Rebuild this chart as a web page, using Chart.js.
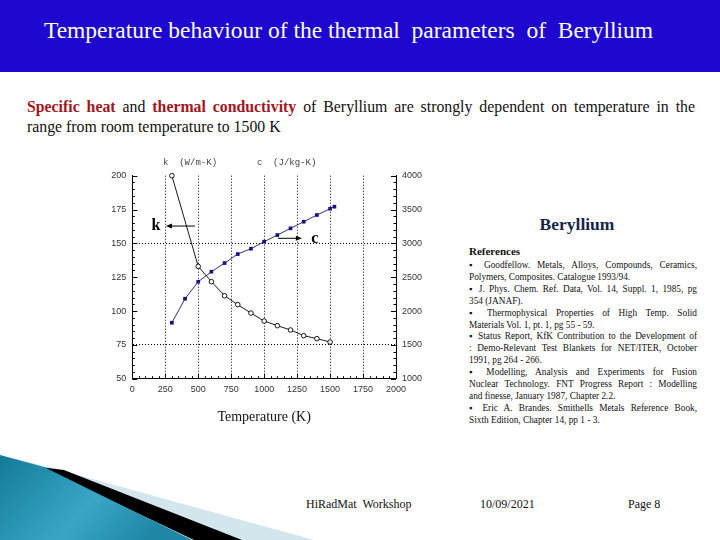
<!DOCTYPE html>
<html><head><meta charset="utf-8">
<script src="https://cdn.jsdelivr.net/npm/chart.js@4/dist/chart.umd.min.js"></script>
<style>
html,body{margin:0;padding:0;background:#fff;}
body{width:720px;height:540px;position:relative;overflow:hidden;font-family:"Liberation Serif","Times New Roman",serif;color:#111;}
#bar{position:absolute;left:0;top:0;width:720px;height:72px;background:#1e08d0;}
#title{position:absolute;left:0;width:697px;top:17px;text-align:center;color:#fff;font-size:23.5px;white-space:nowrap;}
.pl{position:absolute;left:27px;width:668px;font-size:15.8px;white-space:nowrap;}
#p1{top:98px;text-align:justify;text-align-last:justify;}
#p2{top:118px;}
.red{color:#a3141c;font-weight:bold;}
#chartbox{position:absolute;left:100px;top:150px;width:330px;height:280px;}
#be{position:absolute;left:500px;width:154px;top:214px;text-align:center;font-size:17.5px;font-weight:bold;color:#17264a;}
#refh{position:absolute;left:469px;top:245px;font-size:11px;font-weight:bold;}
#refs{position:absolute;left:469px;top:260px;width:228px;font-size:9.3px;line-height:11.9px;}
#refs div{white-space:nowrap;}
#refs .j{text-align:justify;text-align-last:justify;}
.ft{position:absolute;top:497px;font-size:12px;white-space:nowrap;}
#deco{position:absolute;left:0;top:440px;}
</style></head>
<body>
<div id="bar"></div>
<div id="title">Temperature behaviour of the thermal&nbsp; parameters&nbsp; of&nbsp; Beryllium</div>
<div class="pl" id="p1"><span class="red">Specific heat</span> and <span class="red">thermal conductivity</span> of Beryllium are strongly dependent on temperature in the</div>
<div class="pl" id="p2">range from room temperature to 1500 K</div>

<div id="chartbox"><canvas id="c" width="330" height="280"></canvas></div>

<div id="be">Beryllium</div>
<div id="refh">References</div>
<div id="refs">
<div class="j">▪ Goodfellow. Metals, Alloys, Compounds, Ceramics,</div>
<div>Polymers, Composites. Catalogue 1993/94.</div>
<div class="j">▪ J. Phys. Chem. Ref. Data, Vol. 14, Suppl. 1, 1985, pg</div>
<div>354 (JANAF).</div>
<div class="j">▪ Thermophysical Properties of High Temp. Solid</div>
<div>Materials Vol. 1, pt. 1, pg 55 - 59.</div>
<div class="j">▪ Status Report, KfK Contribution to the Development of</div>
<div class="j">: Demo-Relevant Test Blankets for NET/ITER, October</div>
<div>1991, pg 264 - 266.</div>
<div class="j">▪ Modelling, Analysis and Experiments for Fusion</div>
<div class="j">Nuclear Technology. FNT Progress Report : Modelling</div>
<div>and finesse, January 1987, Chapter 2.2.</div>
<div class="j">▪ Eric A. Brandes. Smithells Metals Reference Book,</div>
<div>Sixth Edition, Chapter 14, pp 1 - 3.</div>
</div>

<svg id="deco" width="720" height="100" viewBox="0 440 720 100">
<defs><linearGradient id="tg" x1="0" y1="0" x2="1" y2="0.4">
<stop offset="0" stop-color="#137a98"/><stop offset="0.6" stop-color="#3aa6c6"/><stop offset="1" stop-color="#1f86a6"/></linearGradient></defs>
<polygon points="0,455 60,470 314,540 0,540" fill="#d3e6ee"/>
<polygon points="40,467 64,470 242,540 194,540" fill="#000"/>
<polygon points="0,455 44,467 192,540 0,540" fill="url(#tg)"/>
</svg>

<div class="ft" style="left:306px">HiRadMat&nbsp; Workshop</div>
<div class="ft" style="left:480px">10/09/2021</div>
<div class="ft" style="left:628px">Page 8</div>

<script>
// ---- data ----
const kTemps = [300, 500, 600, 700, 800, 900, 1000, 1100, 1200, 1300, 1400, 1500];
const kValues = [200, 133, 121.7, 111.3, 104.7, 98.5, 92.6, 89.2, 86, 81.8, 79.6, 77.1];
const cTemps = [300, 400, 500, 600, 700, 800, 900, 1000, 1100, 1200, 1300, 1400, 1500, 1533];
const cValues = [1827, 2182, 2433, 2581, 2709, 2842, 2921, 3025, 3123, 3222, 3320, 3419, 3512, 3542];
const xTicks = [0, 250, 500, 750, 1000, 1250, 1500, 1750, 2000];
const kTicks = [50, 75, 100, 125, 150, 175, 200];
const cTicks = [1000, 1500, 2000, 2500, 3000, 3500, 4000];
const kLabel = 'k  (W/m-K)';
const cLabel = 'c  (J/kg-K)';
const xTitle = 'Temperature (K)';

const tickFont = {family: '"Liberation Sans", Arial, sans-serif', size: 9};
const tickColor = '#333';
const gridX = [250, 500, 750, 1000, 1250, 1500, 1750];
const gridY = [150, 75];
const plain = v => String(v);

const decor = {
  id: 'decor',
  afterDraw(chart) {
    const ctx = chart.ctx, a = chart.chartArea;
    const sx = chart.scales.x, sy = chart.scales.y, sc = chart.scales.y2;
    ctx.save();
    ctx.strokeStyle = '#000'; ctx.lineWidth = 1;
    ctx.beginPath();
    for (let v = 0; v <= 2000; v += 50) {
      const p = Math.round(sx.getPixelForValue(v)) + 0.5;
      const L = v % 250 === 0 ? 5 : 2.5;
      ctx.moveTo(p, a.bottom); ctx.lineTo(p, a.bottom - L);
    }
    for (let v = 50; v <= 200; v += 5) {
      const p = Math.round(sy.getPixelForValue(v)) + 0.5;
      const L = v % 25 === 0 ? 5 : 2.5;
      ctx.moveTo(a.left, p); ctx.lineTo(a.left + L, p);
    }
    for (let v = 1000; v <= 4000; v += 100) {
      const p = Math.round(sc.getPixelForValue(v)) + 0.5;
      const L = v % 500 === 0 ? 5 : 2.5;
      ctx.moveTo(a.right, p); ctx.lineTo(a.right - L, p);
    }
    ctx.stroke();

    ctx.fillStyle = '#444';
    ctx.font = '9px "Liberation Mono", "DejaVu Sans Mono", monospace';
    ctx.textBaseline = 'middle'; ctx.textAlign = 'left';
    ctx.fillText(kLabel, sx.getPixelForValue(233), a.top - 13);
    ctx.fillText(cLabel, sx.getPixelForValue(945), a.top - 13);

    ctx.fillStyle = '#000';
    ctx.font = 'bold 16px "Liberation Serif", serif';
    ctx.textAlign = 'center';
    const ky = sy.getPixelForValue(162.8);
    ctx.fillText('k', sx.getPixelForValue(180), ky);
    const kx1 = sx.getPixelForValue(255), kx2 = sx.getPixelForValue(475);
    ctx.beginPath(); ctx.moveTo(kx1 + 4, ky); ctx.lineTo(kx2, ky); ctx.stroke();
    ctx.beginPath(); ctx.moveTo(kx1, ky); ctx.lineTo(kx1 + 6, ky - 2.5); ctx.lineTo(kx1 + 6, ky + 2.5); ctx.closePath(); ctx.fill();

    const cy = sc.getPixelForValue(3075);
    ctx.fillText('c', sx.getPixelForValue(1385), sc.getPixelForValue(3064));
    const cx1 = sx.getPixelForValue(1104), cx2 = sx.getPixelForValue(1286);
    ctx.beginPath(); ctx.moveTo(cx1, cy); ctx.lineTo(cx2 - 4, cy); ctx.stroke();
    ctx.beginPath(); ctx.moveTo(cx2, cy); ctx.lineTo(cx2 - 6, cy - 2.5); ctx.lineTo(cx2 - 6, cy + 2.5); ctx.closePath(); ctx.fill();
    ctx.restore();
  }
};

new Chart(document.getElementById('c'), {
  type: 'line',
  data: {
    datasets: [
      {
        label: 'k', yAxisID: 'y', clip: false,
        data: kTemps.map((t, i) => ({x: t, y: kValues[i]})),
        borderColor: '#000', borderWidth: 0.9, tension: 0,
        pointStyle: 'circle', pointRadius: 2.3, pointBackgroundColor: '#fff',
        pointBorderColor: '#000', pointBorderWidth: 0.9
      },
      {
        label: 'c', yAxisID: 'y2', clip: false,
        data: cTemps.map((t, i) => ({x: t, y: cValues[i]})),
        borderColor: '#1a1a7a', borderWidth: 0.9, tension: 0,
        pointStyle: 'rect', pointRadius: 2.6, pointBackgroundColor: '#14147a',
        pointBorderColor: '#14147a', pointBorderWidth: 0
      }
    ]
  },
  options: {
    responsive: false, animation: false,
    layout: {padding: {top: 25.7, left: 0, right: 0, bottom: 0}},
    plugins: {legend: {display: false}, tooltip: {enabled: false}},
    scales: {
      x: {
        type: 'linear', min: 0, max: 2000,
        afterBuildTicks: s => { s.ticks = xTicks.map(v => ({value: v})); },
        afterFit: s => { s.height = 51.3; },
        ticks: {font: tickFont, color: tickColor, padding: 5, maxRotation: 0, autoSkip: false, callback: plain},
        grid: {drawTicks: false, lineWidth: 1,
          color: c => gridX.includes(c.tick && c.tick.value) ? '#000' : 'rgba(0,0,0,0)'},
        border: {display: true, color: '#000', width: 1, dash: [1, 2]},
        title: {display: true, text: xTitle, color: '#111',
          font: {family: '"Liberation Serif", serif', size: 14}, padding: {top: 6, bottom: 4}}
      },
      y: {
        type: 'linear', position: 'left', min: 50, max: 200,
        afterBuildTicks: s => { s.ticks = kTicks.map(v => ({value: v})); },
        afterFit: s => { s.width = 32.3; },
        ticks: {font: tickFont, color: tickColor, padding: 6, callback: plain},
        grid: {drawTicks: false, lineWidth: 1,
          color: c => gridY.includes(c.tick && c.tick.value) ? '#000' : 'rgba(0,0,0,0)'},
        border: {display: true, color: '#000', width: 1, dash: [1, 2]}
      },
      y2: {
        type: 'linear', position: 'right', min: 1000, max: 4000,
        afterBuildTicks: s => { s.ticks = cTicks.map(v => ({value: v})); },
        afterFit: s => { s.width = 34; },
        ticks: {font: tickFont, color: tickColor, padding: 6, callback: plain},
        grid: {drawOnChartArea: false, drawTicks: false},
        border: {display: true, color: '#000', width: 1}
      }
    }
  },
  plugins: [decor]
});
</script>
</body></html>
